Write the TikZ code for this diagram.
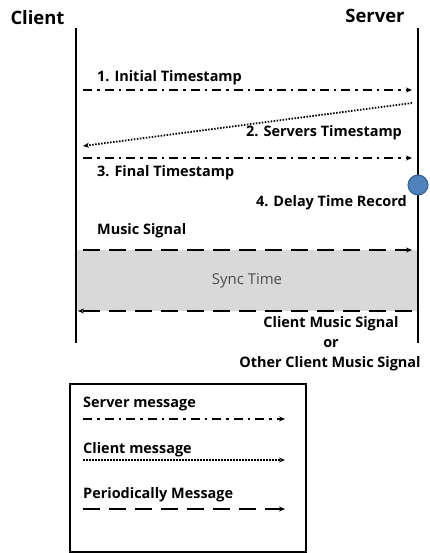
\documentclass[tikz,border=0pt]{standalone}
\usepackage{fontspec}
\setmainfont{Open Sans}
\usetikzlibrary{arrows.meta}
\definecolor{syncgray}{HTML}{D9D9D9}
\definecolor{dotfill}{HTML}{4F81BD}
\definecolor{dotedge}{HTML}{385D8A}
\tikzset{
  lbl/.style={font=\bfseries\fontsize{14.5}{16}\selectfont, inner sep=0pt},
  head/.style={font=\bfseries\fontsize{18.5}{20}\selectfont, inner sep=0pt},
  lifeline/.style={line width=2bp},
  tip/.style={-{Stealth[length=6bp,width=5bp]}},
  srvmsg/.style={tip, line width=1.6bp, dash pattern=on 9bp off 5bp on 2.5bp off 5bp},
  climsg/.style={tip, line width=1.8bp, dash pattern=on 1.5bp off 1.5bp},
  permsg/.style={tip, line width=1.6bp, dash pattern=on 17bp off 9bp},
}
\begin{document}
\begin{tikzpicture}[x=1bp,y=-1bp]
\useasboundingbox (0,0) rectangle (429,553);

% lifeline ends
\coordinate (ctop) at (76,28);
\coordinate (cbot) at (76,343);
\coordinate (stop) at (418,28);
\coordinate (sbot) at (418,343);

% synchronisation band
\fill[syncgray] (76,250) rectangle (418,311);
\node[font=\fontsize{15}{17}\selectfont, text=black!70, inner sep=0pt] (sync) at (247,281) {Sync Time};

\draw[lifeline] (ctop) -- (cbot);
\draw[lifeline] (stop) -- (sbot);

\node[head] (client) at (37.5,18) {Client};
\node[head] (server) at (375,16) {Server};

% message end points
\coordinate (c1) at (83,90);   \coordinate (s1) at (412,90);
\coordinate (s2) at (412,103); \coordinate (c2) at (83,146);
\coordinate (c3) at (83,158);  \coordinate (s3) at (412,158);
\coordinate (c5) at (83,250);  \coordinate (s5) at (412,250);
\coordinate (s6) at (412,311); \coordinate (c6) at (78,311);

\draw[srvmsg] (c1) -- (s1);
\draw[climsg] (s2) -- (c2);
\draw[srvmsg] (c3) -- (s3);
\draw[permsg] (c5) -- (s5);
\draw[permsg] (s6) -- (c6);

\node[lbl, anchor=base west] (m1) at (97,82) {1. Initial Timestamp};
\node[lbl, anchor=base west] (m2) at (246,137) {2. Servers Timestamp};
\node[lbl, anchor=base west] (m3) at (97,177) {3. Final Timestamp};
\node[lbl, anchor=base east] (m4) at (407,207) {4. Delay Time Record};
\node[lbl, anchor=base west] (m5) at (97,234) {Music Signal};
\node[lbl, anchor=base] (m6a) at (331,327) {Client Music Signal};
\node[lbl, anchor=base] (m6b) at (331,347) {or};
\node[lbl, anchor=base] (m6c) at (330,367) {Other Client Music Signal};

% delay record marker
\node[circle, fill=dotfill, draw=dotedge, line width=1bp, minimum size=20bp, inner sep=0pt] (rec) at (418,185) {};

% legend
\node[draw, line width=1.6bp, minimum width=236bp, minimum height=168bp, inner sep=0pt, anchor=north west] (legend) at (69,383) {};
\coordinate (la1) at (83,419);  \coordinate (lb1) at (285,419);
\coordinate (la2) at (83,460);  \coordinate (lb2) at (285,460);
\coordinate (la3) at (83,509);  \coordinate (lb3) at (285,509);
\node[lbl, anchor=base west] (k1) at (83,407) {Server message};
\node[lbl, anchor=base west] (k2) at (83,453) {Client message};
\node[lbl, anchor=base west] (k3) at (83,498) {Periodically Message};
\draw[srvmsg] (la1) -- (lb1);
\draw[climsg] (la2) -- (lb2);
\draw[permsg] (la3) -- (lb3);
\end{tikzpicture}
\end{document}
